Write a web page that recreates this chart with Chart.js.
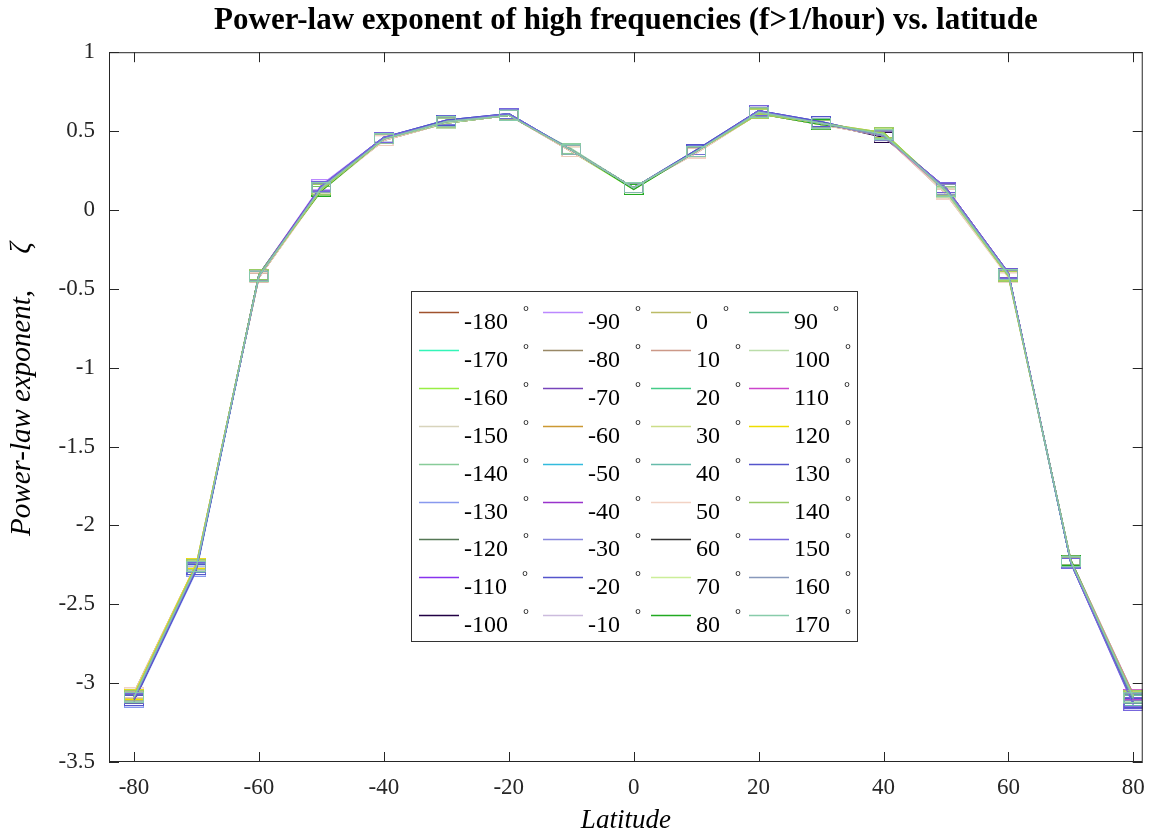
<!DOCTYPE html>
<html>
<head>
<meta charset="utf-8">
<script src="https://cdn.jsdelivr.net/npm/chart.js@4.4.1/dist/chart.umd.min.js"></script>
<style>
  html, body { margin: 0; padding: 0; background: #fff; }
  #wrap { width: 1157px; height: 840px; }
</style>
</head>
<body>
<div id="wrap"><canvas id="zetaChart" width="1157" height="840"></canvas></div>
<script>
// Latitudes (x) and ticks
const latitudes = [-80, -70, -60, -50, -40, -30, -20, -10, 0, 10, 20, 30, 40, 50, 60, 70, 80];
const xTicks = [-80, -60, -40, -20, 0, 20, 40, 60, 80];
const yTicks = [1, 0.5, 0, -0.5, -1, -1.5, -2, -2.5, -3, -3.5];

// Longitude of each series (legend labels, degrees)
const longitudes = [-180, -170, -160, -150, -140, -130, -120, -110, -100,
                    -90, -80, -70, -60, -50, -40, -30, -20, -10,
                    0, 10, 20, 30, 40, 50, 60, 70, 80,
                    90, 100, 110, 120, 130, 140, 150, 160, 170];

const seriesColors = ['#a0522d', '#33f5b8', '#99ee44', '#d8d4bc', '#88cc99', '#8899ee', '#557755', '#8833ee', '#220044',
                      '#bb88ff', '#998866', '#7744bb', '#cc9933', '#33bbdd', '#9933cc', '#8888dd', '#5555cc', '#ccbbdd',
                      '#bbbb66', '#cc9988', '#44cc88', '#ccdd88', '#66bbaa', '#f2d2c4', '#333333', '#ccee99', '#22aa22',
                      '#55bb88', '#bbddaa', '#cc44cc', '#eedd00', '#5555cc', '#99cc66', '#7766dd', '#8899bb', '#88ccaa'];

// Power-law exponent per longitude, one value per latitude
const zeta = [
  [-3.07,-2.25,-0.43,0.13,0.45,0.55,0.60,0.38,0.14,0.37,0.61,0.55,0.47,0.11,-0.41,-2.23,-3.08],
  [-3.11,-2.28,-0.42,0.14,0.46,0.56,0.60,0.38,0.14,0.37,0.62,0.55,0.48,0.12,-0.41,-2.24,-3.11],
  [-3.08,-2.26,-0.41,0.12,0.45,0.56,0.61,0.37,0.13,0.37,0.61,0.54,0.49,0.13,-0.42,-2.23,-3.09],
  [-3.06,-2.24,-0.42,0.13,0.44,0.55,0.60,0.38,0.14,0.36,0.61,0.55,0.48,0.10,-0.43,-2.22,-3.07],
  [-3.09,-2.27,-0.41,0.14,0.45,0.56,0.60,0.39,0.14,0.37,0.62,0.55,0.47,0.12,-0.41,-2.24,-3.10],
  [-3.12,-2.29,-0.42,0.15,0.46,0.57,0.61,0.38,0.14,0.38,0.63,0.56,0.47,0.13,-0.40,-2.24,-3.12],
  [-3.08,-2.25,-0.41,0.14,0.45,0.56,0.60,0.38,0.14,0.37,0.62,0.55,0.47,0.12,-0.41,-2.23,-3.09],
  [-3.10,-2.27,-0.42,0.15,0.46,0.56,0.60,0.38,0.14,0.37,0.62,0.55,0.47,0.14,-0.41,-2.23,-3.13],
  [-3.11,-2.27,-0.42,0.15,0.45,0.56,0.60,0.38,0.14,0.37,0.63,0.55,0.46,0.14,-0.40,-2.24,-3.11],
  [-3.08,-2.26,-0.41,0.16,0.46,0.56,0.61,0.38,0.14,0.37,0.62,0.55,0.47,0.13,-0.41,-2.24,-3.12],
  [-3.06,-2.24,-0.43,0.13,0.44,0.55,0.60,0.37,0.14,0.37,0.61,0.54,0.47,0.11,-0.42,-2.22,-3.07],
  [-3.09,-2.26,-0.41,0.15,0.45,0.56,0.60,0.38,0.14,0.37,0.63,0.55,0.47,0.14,-0.40,-2.23,-3.11],
  [-3.07,-2.25,-0.42,0.13,0.45,0.56,0.60,0.38,0.14,0.37,0.61,0.55,0.48,0.12,-0.41,-2.23,-3.08],
  [-3.10,-2.27,-0.42,0.14,0.46,0.56,0.60,0.38,0.14,0.37,0.62,0.55,0.48,0.12,-0.42,-2.24,-3.10],
  [-3.09,-2.26,-0.41,0.15,0.45,0.56,0.60,0.38,0.14,0.37,0.62,0.55,0.47,0.14,-0.40,-2.23,-3.12],
  [-3.10,-2.27,-0.42,0.14,0.45,0.56,0.60,0.38,0.14,0.37,0.63,0.55,0.47,0.13,-0.41,-2.23,-3.11],
  [-3.11,-2.28,-0.42,0.15,0.46,0.57,0.61,0.38,0.14,0.38,0.63,0.56,0.47,0.13,-0.41,-2.24,-3.12],
  [-3.08,-2.25,-0.42,0.13,0.45,0.56,0.60,0.38,0.14,0.37,0.61,0.55,0.47,0.11,-0.42,-2.23,-3.09],
  [-3.09,-2.26,-0.42,0.13,0.45,0.56,0.60,0.38,0.14,0.37,0.62,0.55,0.48,0.11,-0.42,-2.23,-3.08],
  [-3.07,-2.25,-0.43,0.13,0.44,0.55,0.60,0.37,0.14,0.36,0.61,0.54,0.47,0.10,-0.42,-2.22,-3.08],
  [-3.09,-2.27,-0.41,0.14,0.45,0.56,0.61,0.38,0.14,0.37,0.62,0.55,0.48,0.12,-0.41,-2.23,-3.10],
  [-3.08,-2.25,-0.42,0.13,0.45,0.56,0.60,0.38,0.14,0.37,0.61,0.54,0.49,0.11,-0.42,-2.23,-3.09],
  [-3.10,-2.27,-0.42,0.14,0.46,0.56,0.60,0.38,0.14,0.37,0.62,0.55,0.48,0.12,-0.41,-2.24,-3.11],
  [-3.06,-2.24,-0.43,0.12,0.44,0.55,0.60,0.37,0.14,0.36,0.61,0.54,0.47,0.10,-0.43,-2.22,-3.07],
  [-3.10,-2.26,-0.42,0.14,0.45,0.56,0.60,0.38,0.14,0.37,0.62,0.55,0.47,0.13,-0.41,-2.23,-3.10],
  [-3.08,-2.25,-0.42,0.13,0.45,0.56,0.60,0.38,0.14,0.37,0.61,0.55,0.48,0.12,-0.42,-2.23,-3.08],
  [-3.09,-2.26,-0.41,0.12,0.45,0.55,0.60,0.38,0.13,0.37,0.61,0.54,0.49,0.12,-0.42,-2.22,-3.09],
  [-3.09,-2.26,-0.42,0.13,0.45,0.56,0.60,0.38,0.14,0.37,0.62,0.55,0.48,0.12,-0.41,-2.23,-3.10],
  [-3.07,-2.25,-0.42,0.13,0.45,0.55,0.60,0.38,0.14,0.37,0.61,0.55,0.48,0.11,-0.42,-2.23,-3.08],
  [-3.08,-2.26,-0.42,0.14,0.45,0.56,0.60,0.38,0.14,0.37,0.62,0.55,0.47,0.12,-0.41,-2.23,-3.07],
  [-3.07,-2.24,-0.42,0.13,0.45,0.56,0.60,0.38,0.14,0.37,0.61,0.55,0.49,0.12,-0.42,-2.23,-3.08],
  [-3.11,-2.28,-0.42,0.15,0.46,0.57,0.61,0.38,0.14,0.38,0.63,0.56,0.47,0.14,-0.40,-2.24,-3.13],
  [-3.08,-2.25,-0.41,0.13,0.45,0.56,0.60,0.38,0.14,0.37,0.61,0.55,0.49,0.12,-0.42,-2.23,-3.08],
  [-3.10,-2.27,-0.42,0.15,0.46,0.56,0.61,0.38,0.14,0.37,0.63,0.55,0.47,0.14,-0.40,-2.24,-3.14],
  [-3.09,-2.26,-0.42,0.14,0.45,0.56,0.60,0.38,0.14,0.37,0.62,0.55,0.47,0.13,-0.41,-2.23,-3.10],
  [-3.09,-2.26,-0.42,0.14,0.45,0.56,0.60,0.38,0.14,0.37,0.62,0.55,0.48,0.12,-0.41,-2.23,-3.09]
];

const SERIF = '"Liberation Serif", "Times New Roman", serif';
const AXIS_COLOR = '#262626';

// square-ish marker, one per series colour
function makeMarker(color) {
    const c = document.createElement('canvas');
    c.width = 20;
    c.height = 11;
    const g = c.getContext('2d');
    g.strokeStyle = color;
    g.lineWidth = 1;
    g.strokeRect(0.5, 0.5, 19, 10);
    return c;
}

const datasets = longitudes.map((lon, i) => ({
    label: String(lon),
    data: latitudes.map((lat, j) => ({ x: lat, y: zeta[i][j] })),
    borderColor: seriesColors[i],
    backgroundColor: seriesColors[i],
    borderWidth: 1.2,
    pointStyle: makeMarker(seriesColors[i]),
    pointRadius: 6,
    tension: 0,
    order: longitudes.length - i
}));

// box + inward ticks like the original figure
const boxPlugin = {
    id: 'axisBox',
    afterDatasetsDraw(chart) {
        const { ctx, chartArea: a, scales } = chart;
        ctx.save();
        ctx.strokeStyle = AXIS_COLOR;
        ctx.lineWidth = 1;
        ctx.strokeRect(a.left + 0.5, a.top + 0.5, a.right - a.left - 1, a.bottom - a.top - 1);
        ctx.beginPath();
        xTicks.forEach(v => {
            const px = Math.round(scales.x.getPixelForValue(v)) + 0.5;
            ctx.moveTo(px, a.bottom); ctx.lineTo(px, a.bottom - 10);
            ctx.moveTo(px, a.top); ctx.lineTo(px, a.top + 10);
        });
        yTicks.forEach(v => {
            const py = Math.round(scales.y.getPixelForValue(v)) + 0.5;
            ctx.moveTo(a.left, py); ctx.lineTo(a.left + 10, py);
            ctx.moveTo(a.right, py); ctx.lineTo(a.right - 10, py);
        });
        ctx.stroke();
        ctx.restore();
    }
};

// 4 x 9 legend box inside the axes
const legendPlugin = {
    id: 'gridLegend',
    afterDraw(chart) {
        const ctx = chart.ctx;
        const box = { x: 411, y: 291, w: 446, h: 350 };
        const colX = [419, 543, 651, 749];
        const rowH = 37.9;
        ctx.save();
        ctx.fillStyle = '#fff';
        ctx.fillRect(box.x, box.y, box.w, box.h);
        ctx.strokeStyle = '#333';
        ctx.lineWidth = 1;
        ctx.strokeRect(box.x + 0.5, box.y + 0.5, box.w, box.h);
        chart.data.datasets.forEach((ds, i) => {
            const col = Math.floor(i / 9);
            const row = i % 9;
            const lx = colX[col];
            const ly = Math.round(312 + row * rowH) + 0.5;
            ctx.strokeStyle = ds.borderColor;
            ctx.lineWidth = 1.5;
            ctx.beginPath();
            ctx.moveTo(lx, ly);
            ctx.lineTo(lx + 40, ly);
            ctx.stroke();
            ctx.fillStyle = '#000';
            ctx.font = '24px ' + SERIF;
            ctx.textBaseline = 'alphabetic';
            ctx.textAlign = 'left';
            ctx.fillText(ds.label, lx + 45, ly + 16);
            const tw = ctx.measureText(ds.label).width;
            ctx.font = '15px ' + SERIF;
            ctx.fillText('°', lx + 45 + tw + 15, ly + 3);
        });
        ctx.restore();
    }
};

const ctx = document.getElementById('zetaChart').getContext('2d');
new Chart(ctx, {
    type: 'line',
    data: { datasets: datasets },
    options: {
        responsive: false,
        animation: false,
        layout: { padding: { left: 0, right: 9, top: 0, bottom: 3 } },
        plugins: {
            legend: { display: false },
            tooltip: { enabled: false },
            title: {
                display: true,
                fullSize: false,
                text: 'Power-law exponent of high frequencies (f>1/hour) vs. latitude',
                color: '#000',
                font: { family: SERIF, size: 31, weight: 'bold' },
                padding: { top: 2, bottom: 13 }
            }
        },
        scales: {
            x: {
                type: 'linear',
                min: -84,
                max: 81.5,
                afterBuildTicks: s => { s.ticks = xTicks.map(v => ({ value: v })); },
                afterFit: s => { s.height = 75; },
                grid: { display: false, drawTicks: false },
                border: { display: false },
                ticks: {
                    color: '#262626',
                    font: { family: SERIF, size: 23 },
                    padding: 12,
                    maxRotation: 0,
                    callback: v => String(v)
                },
                title: {
                    display: true,
                    text: 'Latitude',
                    color: '#000',
                    font: { family: SERIF, size: 27, style: 'italic' },
                    padding: { top: 0, bottom: 0 }
                }
            },
            y: {
                type: 'linear',
                min: -3.5,
                max: 1,
                afterBuildTicks: s => { s.ticks = yTicks.map(v => ({ value: v })); },
                afterFit: s => { s.width = 109; },
                grid: { display: false, drawTicks: false },
                border: { display: false },
                ticks: {
                    color: '#262626',
                    font: { family: SERIF, size: 23 },
                    padding: 14,
                    callback: v => String(v)
                },
                title: {
                    display: true,
                    text: '     Power-law exponent,     ζ',
                    color: '#000',
                    font: { family: SERIF, size: 29, style: 'italic' },
                    padding: { top: 5, bottom: 0 }
                }
            }
        }
    },
    plugins: [boxPlugin, legendPlugin]
});
</script>
</body>
</html>
